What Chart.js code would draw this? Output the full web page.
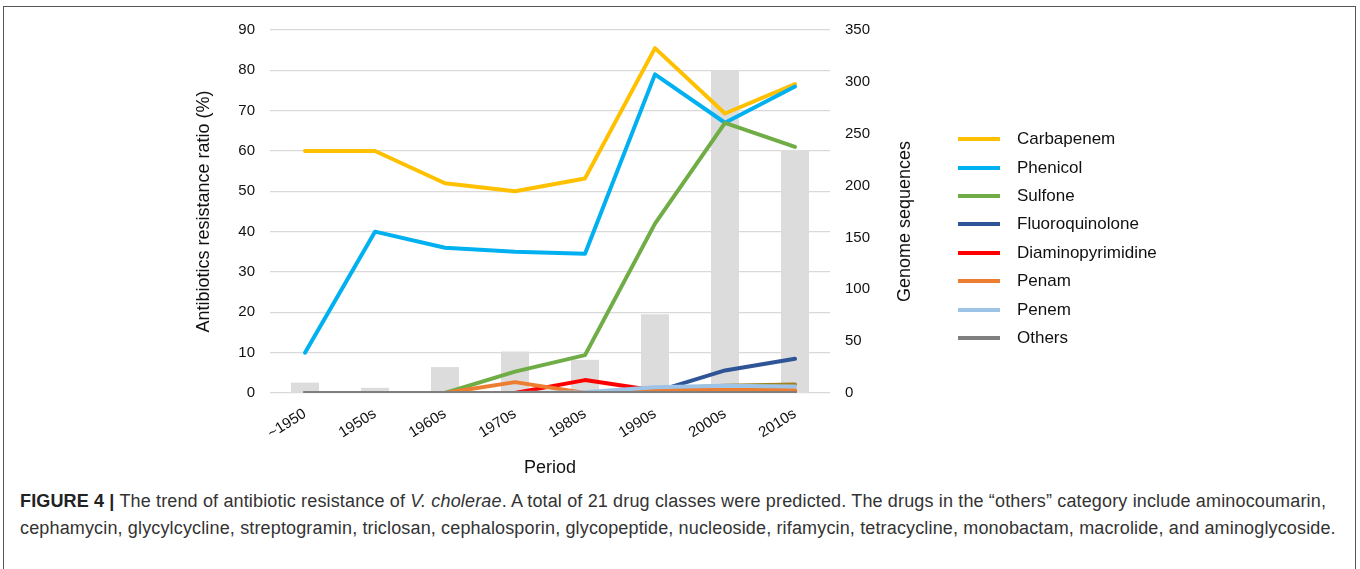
<!DOCTYPE html>
<html>
<head>
<meta charset="utf-8">
<script src="https://cdn.jsdelivr.net/npm/chart.js@4.4.1/dist/chart.umd.min.js"></script>
<style>
    body { margin: 0; background: #fff; font-family: "Liberation Sans", Arial, sans-serif; }
    #frame { position: absolute; left: 3px; top: 6px; width: 1353px; height: 570px; border: 1px solid #555; box-sizing: border-box; }
    #wrap { position: absolute; left: 0; top: 0; width: 1360px; height: 485px; }
    #legend { position: absolute; left: 958px; top: 125px; font-size: 17px; color: #111; }
    #legend .item { height: 28.4px; display: flex; align-items: center; }
    #legend .swatch { width: 42px; height: 4px; margin-right: 17px; }
    #caption { position: absolute; left: 20px; top: 488px; width: 1334px; font-size: 18px; letter-spacing: 0.15px; line-height: 27px; color: #333; }
    #caption b { color: #222; }
</style>
</head>
<body>
<div id="frame"></div>
<div id="wrap"><canvas id="chart"></canvas></div>
<div id="legend"></div>
<div id="caption"><b>FIGURE 4 |</b> The trend of antibiotic resistance of <i>V. cholerae</i>. A total of 21 drug classes were predicted. The drugs in the “others” category include aminocoumarin, cephamycin, glycylcycline, streptogramin, triclosan, cephalosporin, glycopeptide, nucleoside, rifamycin, tetracycline, monobactam, macrolide, and aminoglycoside.</div>
<script>
const categories = ['~1950', '1950s', '1960s', '1970s', '1980s', '1990s', '2000s', '2010s'];
const genomes = [10, 5, 25, 40, 32, 76, 311, 234];
const carbapenem = [60, 60, 52, 50, 53.2, 85.5, 69.3, 76.6];
const phenicol = [10, 40, 36, 35, 34.5, 79, 67, 76];
const sulfone = [0, 0, 0, 5.3, 9.4, 42, 67, 61];
const fluoroquinolone = [0, 0, 0, 0, 0, 0.3, 5.6, 8.5];
const diaminopyrimidine = [0, 0, 0, 0, 3.2, 0.6, 0.5, 0.5];
const penam = [0, 0, 0, 2.7, 0, 0.5, 0.9, 0.7];
const penem = [0, 0, 0, 0, 0.2, 1.4, 1.8, 1.6];
const others = [0, 0, 0, 0, 0, 0, 0, 0];
const unlabelled = [0, 0, 0, 0, 0, 1.0, 1.8, 2.1];

// drawn in this order, later ones on top
const lineSeries = [
    { label: 'Carbapenem', data: carbapenem, color: '#ffc000' },
    { label: 'Phenicol', data: phenicol, color: '#00b0f0' },
    { label: 'Sulfone', data: sulfone, color: '#70ad47' },
    { label: 'Fluoroquinolone', data: fluoroquinolone, color: '#2f5597' },
    { label: 'Diaminopyrimidine', data: diaminopyrimidine, color: '#ff0000' },
    { label: '', data: unlabelled, color: '#a08020' },
    { label: 'Penam', data: penam, color: '#ed7d31' },
    { label: 'Penem', data: penem, color: '#9dc3e6' },
    { label: 'Others', data: others, color: '#7f7f7f' }
];

const font = '"Liberation Sans", Arial, sans-serif';

const datasets = lineSeries.map((s, i) => ({
    type: 'line',
    label: s.label,
    data: s.data,
    yAxisID: 'y',
    borderColor: s.color,
    backgroundColor: s.color,
    borderWidth: 4,
    pointRadius: 0,
    tension: 0,
    borderJoinStyle: 'round',
    borderCapStyle: 'round',
    order: 20 - i
}));

datasets.push({
    type: 'bar',
    label: 'Genome sequences',
    data: genomes,
    yAxisID: 'y1',
    backgroundColor: '#dcdcdc',
    barPercentage: 0.4,
    categoryPercentage: 1,
    order: 100
});

const rightTitle = {
    id: 'rightTitle',
    afterDraw(chart) {
        const ctx = chart.ctx;
        const area = chart.chartArea;
        ctx.save();
        ctx.translate(chart.scales.y1.left + 75, (area.top + area.bottom) / 2 + 10);
        ctx.rotate(-Math.PI / 2);
        ctx.font = '18px ' + font;
        ctx.fillStyle = '#111';
        ctx.textAlign = 'center';
        ctx.textBaseline = 'middle';
        ctx.fillText('Genome sequences', 0, 0);
        ctx.restore();
    }
};

const chart = new Chart(document.getElementById('chart'), {
    data: { labels: categories, datasets },
    options: {
        responsive: true,
        maintainAspectRatio: false,
        animation: false,
        layout: { padding: { top: 30, left: 185, right: 470, bottom: 0 } },
        plugins: {
            legend: { display: false },
            tooltip: { enabled: false }
        },
        scales: {
            x: {
                grid: { display: false },
                border: { display: false },
                ticks: { color: '#111', font: { family: font, size: 15 }, minRotation: 32, maxRotation: 32, padding: 4 },
                title: { display: true, text: 'Period', color: '#111', font: { family: font, size: 18 }, padding: { top: 0, bottom: 6 } },
                afterFit(scale) { scale.height = 92; }
            },
            y: {
                position: 'left',
                min: 0, max: 90,
                ticks: { stepSize: 10, color: '#111', font: { family: font, size: 15 }, padding: 15 },
                grid: { color: '#d9d9d9', lineWidth: 1.3, drawTicks: false },
                border: { display: false },
                title: { display: true, text: 'Antibiotics resistance ratio (%)', color: '#111', font: { family: font, size: 18 }, padding: { top: 8, bottom: 0 } },
                afterFit(scale) { scale.width = 85; }
            },
            y1: {
                position: 'right',
                min: 0, max: 350,
                ticks: { stepSize: 50, color: '#111', font: { family: font, size: 15 }, padding: 15 },
                grid: { display: false, drawTicks: false },
                border: { display: false },
                afterFit(scale) { scale.width = 60; }
            }
        }
    },
    plugins: [rightTitle]
});

const legend = document.getElementById('legend');
chart.data.datasets
    .filter(d => d.type === 'line' && d.label)
    .forEach(d => {
        const row = document.createElement('div');
        row.className = 'item';
        row.innerHTML = `<span class="swatch" style="background:${d.borderColor}"></span><span>${d.label}</span>`;
        legend.appendChild(row);
    });
</script>
</body>
</html>
